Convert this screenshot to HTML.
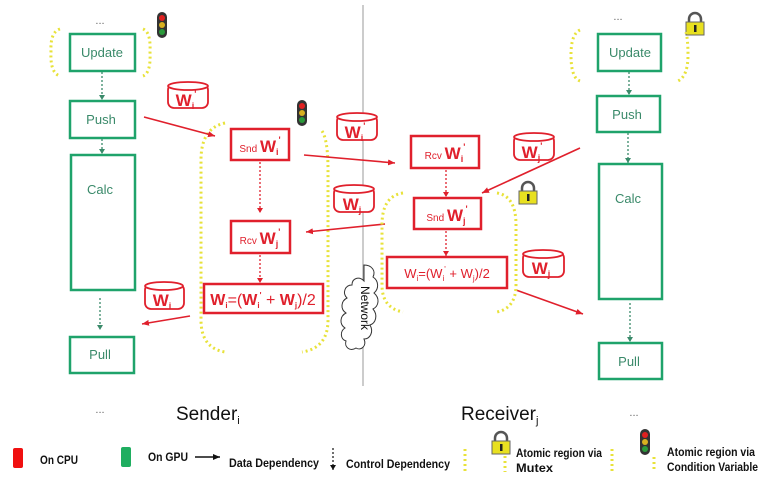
<!DOCTYPE html>
<html><head><meta charset="utf-8"><style>
html,body{margin:0;padding:0;background:#fff;}
svg{display:block;font-family:"Liberation Sans",sans-serif;}
.g{fill:none;stroke:#1fa36b;stroke-width:2.5}
.gt{fill:#3a8a6a;font-size:13px;text-anchor:middle}
.r{fill:#fff;stroke:#e0202c;stroke-width:2.5}
.rt{fill:#e0202c;font-weight:bold;text-anchor:middle}
.ra{stroke:#e0202c;stroke-width:1.6;fill:none;marker-end:url(#ar)}
.rd{stroke:#e0202c;stroke-width:1.3;stroke-dasharray:2 2;fill:none;marker-end:url(#ar2)}
.gd{stroke:#3a8a6a;stroke-width:1.3;stroke-dasharray:2 2;fill:none;marker-end:url(#ag)}
.y{fill:none;stroke:#e8e23a;stroke-width:3;stroke-dasharray:2 3}
.cyl{fill:#fff;stroke:#e0202c;stroke-width:1.8}
.lg{font-size:12px;font-weight:bold;fill:#111}
</style></head><body>
<svg width="768" height="479" viewBox="0 0 768 479" xmlns="http://www.w3.org/2000/svg">
<defs>
<marker id="ar" markerWidth="8" markerHeight="8" refX="7" refY="4" orient="auto" markerUnits="userSpaceOnUse"><path d="M0,1 L7,4 L0,7z" fill="#e0202c"/></marker>
<marker id="ar2" markerWidth="6" markerHeight="6" refX="5" refY="3" orient="auto" markerUnits="userSpaceOnUse"><path d="M0,0 L5,3 L0,6z" fill="#e0202c"/></marker>
<marker id="ag" markerWidth="6" markerHeight="6" refX="5" refY="3" orient="auto" markerUnits="userSpaceOnUse"><path d="M0,0 L5,3 L0,6z" fill="#3a8a6a"/></marker>
<marker id="ak" markerWidth="8" markerHeight="8" refX="7" refY="4" orient="auto" markerUnits="userSpaceOnUse"><path d="M0,1 L7,4 L0,7z" fill="#111"/></marker>
<marker id="akd" markerWidth="6" markerHeight="6" refX="5" refY="3" orient="auto" markerUnits="userSpaceOnUse"><path d="M0,0 L5,3 L0,6z" fill="#111"/></marker>
<g id="tl"><rect x="0" y="0" width="10" height="26" rx="5" fill="#333"/><circle cx="5" cy="6" r="3" fill="#e02020"/><circle cx="5" cy="13" r="3" fill="#d8b020"/><circle cx="5" cy="20" r="3" fill="#2a9a3a"/></g>
<g id="lk"><path d="M3,9 V6 a6,6 0 0 1 12,0 V9" fill="none" stroke="#555" stroke-width="2.5"/><rect x="0" y="9" width="18" height="13" fill="#e8e020" stroke="#666" stroke-width="1"/><rect x="8" y="12" width="2.5" height="7" fill="#222"/></g>
</defs>

<line x1="363" y1="5" x2="363" y2="386" stroke="#999" stroke-width="1"/>
<path d="M364,265 c8,0 12,6 9,12 c6,4 6,12 1,16 c6,5 5,13 -1,16 c5,6 3,14 -3,16 c4,7 0,14 -6,14 c3,7 -3,12 -8,9 c-6,4 -12,-1 -10,-7 c-6,-2 -6,-10 -1,-13 c-6,-4 -5,-12 1,-15 c-6,-4 -5,-12 1,-15 c-5,-5 -2,-13 5,-13 c0,-7 7,-9 12,-4z" fill="#fff" stroke="#333" stroke-width="1"/>
<text x="0" y="0" font-size="12" fill="#111" transform="translate(361,286) rotate(90)">Network</text>

<text x="100" y="24" font-size="11" fill="#666" text-anchor="middle">...</text>
<use href="#tl" x="157" y="12"/>
<path class="y" d="M60,29 Q50,32 51,52 Q50,73 60,76"/>
<path class="y" d="M143,29 Q151,32 150,52 Q151,73 143,76"/>
<rect class="g" x="70" y="34" width="65" height="37"/><text class="gt" x="102" y="57">Update</text>
<line class="gd" x1="102" y1="72" x2="102" y2="100"/>
<rect class="g" x="70" y="101" width="65" height="37"/><text class="gt" x="101" y="124">Push</text>
<line class="gd" x1="102" y1="139" x2="102" y2="154"/>
<rect class="g" x="71" y="155" width="64" height="135"/><text class="gt" x="100" y="194">Calc</text>
<line class="gd" x1="100" y1="298" x2="100" y2="330"/>
<rect class="g" x="70" y="337" width="64" height="36"/><text class="gt" x="100" y="359">Pull</text>

<g><rect class="cyl" x="168" y="84" width="40" height="24" rx="6"/><ellipse class="cyl" cx="188" cy="86" rx="20" ry="4"/><text class="rt" x="186" y="106" font-size="17">W<tspan font-size="9" dy="3">i</tspan><tspan font-size="9" dy="-12">'</tspan></text></g>
<g><rect class="cyl" x="337" y="115" width="40" height="25" rx="6"/><ellipse class="cyl" cx="357" cy="117" rx="20" ry="4"/><text class="rt" x="355" y="138" font-size="17">W<tspan font-size="9" dy="3">i</tspan><tspan font-size="9" dy="-12">'</tspan></text></g>
<g><rect class="cyl" x="334" y="187" width="40" height="25" rx="6"/><ellipse class="cyl" cx="354" cy="189" rx="20" ry="4"/><text class="rt" x="352" y="210" font-size="17">W<tspan font-size="9" dy="3">j</tspan></text></g>
<g><rect class="cyl" x="145" y="284" width="39" height="25" rx="6"/><ellipse class="cyl" cx="164" cy="286" rx="19" ry="4"/><text class="rt" x="162" y="306" font-size="17">W<tspan font-size="9" dy="3">i</tspan></text></g>
<g><rect class="cyl" x="514" y="135" width="40" height="25" rx="6"/><ellipse class="cyl" cx="534" cy="137" rx="20" ry="4"/><text class="rt" x="532" y="158" font-size="17">W<tspan font-size="9" dy="3">j</tspan><tspan font-size="9" dy="-12">'</tspan></text></g>
<g><rect class="cyl" x="523" y="252" width="41" height="25" rx="6"/><ellipse class="cyl" cx="543" cy="254" rx="20" ry="4"/><text class="rt" x="541" y="274" font-size="17">W<tspan font-size="9" dy="3">j</tspan></text></g>

<use href="#tl" x="297" y="100"/>
<path class="y" d="M225,123 Q201,128 201,160 L201,320 Q201,348 225,352"/>
<path class="y" d="M322,131 Q328,140 328,170 L328,320 Q328,348 302,352"/>
<rect class="r" x="231" y="129" width="58" height="31"/><text class="rt" x="260" y="152" font-size="17"><tspan font-size="10" font-weight="normal">Snd </tspan>W<tspan font-size="9" dy="3">i</tspan><tspan font-size="9" dy="-12">'</tspan></text>
<line class="rd" x1="260" y1="162" x2="260" y2="213"/>
<rect class="r" x="231" y="221" width="59" height="32"/><text class="rt" x="260" y="244" font-size="17"><tspan font-size="10" font-weight="normal">Rcv </tspan>W<tspan font-size="9" dy="3">j</tspan><tspan font-size="9" dy="-12">'</tspan></text>
<line class="rd" x1="260" y1="255" x2="260" y2="283"/>
<rect class="r" x="204" y="284" width="119" height="29"/><text class="rt" x="263" y="305" font-size="16">W<tspan font-size="8" dy="3">i</tspan><tspan dy="-3" font-weight="normal">=(</tspan>W<tspan font-size="8" dy="3">i</tspan><tspan font-size="8" dy="-10">'</tspan><tspan dy="7" font-weight="normal"> + </tspan>W<tspan font-size="8" dy="3">j</tspan><tspan dy="-3" font-weight="normal">)/2</tspan></text>

<line class="ra" x1="144" y1="117" x2="215" y2="136"/>
<line class="ra" x1="304" y1="155" x2="395" y2="163"/>
<line class="ra" x1="385" y1="224" x2="306" y2="232"/>
<line class="ra" x1="190" y1="316" x2="142" y2="324"/>
<line class="ra" x1="580" y1="148" x2="482" y2="193"/>
<line class="ra" x1="516" y1="290" x2="583" y2="314"/>

<use href="#lk" x="519" y="182"/>
<path class="y" d="M403,193 Q382,196 382,225 L382,285 Q382,308 403,312"/>
<path class="y" d="M497,193 Q516,196 516,225 L516,285 Q516,308 497,312"/>
<rect class="r" x="411" y="136" width="68" height="32"/><text class="rt" x="445" y="159" font-size="17"><tspan font-size="10" font-weight="normal">Rcv </tspan>W<tspan font-size="9" dy="3">i</tspan><tspan font-size="9" dy="-12">'</tspan></text>
<line class="rd" x1="446" y1="170" x2="446" y2="197"/>
<rect class="r" x="414" y="198" width="67" height="31"/><text class="rt" x="447" y="221" font-size="17"><tspan font-size="10" font-weight="normal">Snd </tspan>W<tspan font-size="9" dy="3">j</tspan><tspan font-size="9" dy="-12">'</tspan></text>
<line class="rd" x1="446" y1="231" x2="446" y2="256"/>
<rect class="r" x="387" y="257" width="120" height="31"/><text x="447" y="278" font-size="13" fill="#e0202c" text-anchor="middle">W<tspan font-size="8" dy="3">i</tspan><tspan dy="-3">=(W</tspan><tspan font-size="8" dy="3">i</tspan><tspan font-size="8" dy="-9">'</tspan><tspan dy="6"> + W</tspan><tspan font-size="8" dy="3">j</tspan><tspan dy="-3">)/2</tspan></text>

<text x="618" y="20" font-size="11" fill="#666" text-anchor="middle">...</text>
<use href="#lk" x="686" y="13"/>
<path class="y" d="M580,30 Q571,34 571,55 Q571,78 580,81"/>
<path class="y" d="M686,32 Q688,40 688,55 Q688,76 678,81"/>
<rect class="g" x="598" y="34" width="63" height="37"/><text class="gt" x="630" y="57">Update</text>
<line class="gd" x1="629" y1="72" x2="629" y2="95"/>
<rect class="g" x="597" y="96" width="63" height="36"/><text class="gt" x="627" y="119">Push</text>
<line class="gd" x1="628" y1="133" x2="628" y2="163"/>
<rect class="g" x="599" y="164" width="63" height="135"/><text class="gt" x="628" y="203">Calc</text>
<line class="gd" x1="630" y1="303" x2="630" y2="342"/>
<rect class="g" x="599" y="343" width="63" height="36"/><text class="gt" x="629" y="366">Pull</text>

<text x="100" y="413" font-size="11" fill="#666" text-anchor="middle">...</text>
<text x="176" y="420" font-size="19" fill="#111">Sender<tspan font-size="11" dy="4">i</tspan></text>
<text x="461" y="420" font-size="19" fill="#111">Receiver<tspan font-size="11" dy="4">j</tspan></text>
<text x="634" y="416" font-size="11" fill="#666" text-anchor="middle">...</text>

<rect x="13" y="448" width="10" height="20" rx="2" fill="#f01010"/>
<text class="lg" x="40" y="464" textLength="38" lengthAdjust="spacingAndGlyphs">On CPU</text>
<rect x="121" y="447" width="10" height="20" rx="2" fill="#1fae60"/>
<text class="lg" x="148" y="461" textLength="40" lengthAdjust="spacingAndGlyphs">On GPU</text>
<line x1="195" y1="457" x2="220" y2="457" stroke="#111" stroke-width="1.5" marker-end="url(#ak)"/>
<text class="lg" x="229" y="467" textLength="90" lengthAdjust="spacingAndGlyphs">Data Dependency</text>
<line x1="333" y1="448" x2="333" y2="470" stroke="#111" stroke-width="1.2" stroke-dasharray="2 2" marker-end="url(#akd)"/>
<text class="lg" x="346" y="468" textLength="104" lengthAdjust="spacingAndGlyphs">Control Dependency</text>
<line x1="465" y1="449" x2="465" y2="472" class="y"/>
<use href="#lk" x="492" y="432"/>
<line x1="505" y1="456" x2="505" y2="472" class="y"/>
<text class="lg" x="516" y="457" textLength="86" lengthAdjust="spacingAndGlyphs">Atomic region via</text>
<text class="lg" x="516" y="472" textLength="37" lengthAdjust="spacingAndGlyphs">Mutex</text>
<line x1="612" y1="449" x2="612" y2="472" class="y"/>
<use href="#tl" x="640" y="429"/>
<line x1="654" y1="457" x2="654" y2="472" class="y"/>
<text class="lg" x="667" y="456" textLength="88" lengthAdjust="spacingAndGlyphs">Atomic region via</text>
<text class="lg" x="667" y="471" textLength="91" lengthAdjust="spacingAndGlyphs">Condition Variable</text>
</svg>
</body></html>
